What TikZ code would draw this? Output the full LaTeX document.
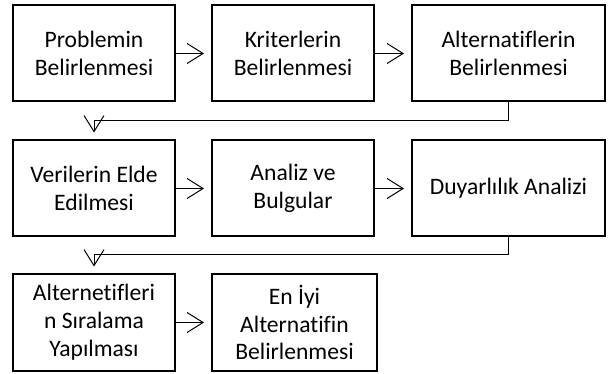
\documentclass[tikz,border=0pt]{standalone}
\usepackage{fontspec}
\setmainfont[Ligatures=NoCommon]{Carlito}
\usetikzlibrary{arrows.meta}
\tikzset{
  stepbox/.style={draw, line width=2pt, minimum height=96pt, inner sep=0pt, align=center,
    font=\fontsize{23.6}{27.8}\selectfont},
  arr/.style={line width=1pt, -{Straight Barb[length=16pt,width=20pt,line width=1pt]}, shorten >=7pt}
}
\begin{document}
\begin{tikzpicture}[x=1pt,y=-1pt]
\useasboundingbox (0,0) rectangle (611,374);
\node[stepbox, minimum width=162pt] (a1) at (94,53.5) {Problemin\\Belirlenmesi};
\node[stepbox, minimum width=162pt] (a2) at (293,53.5) {Kriterlerin\\Belirlenmesi};
\node[stepbox, minimum width=193pt] (a3) at (508.5,53.5) {Alternatiflerin\\Belirlenmesi};
\node[stepbox, minimum width=162pt] (b1) at (94,188.5) {Verilerin Elde\\Edilmesi};
\node[stepbox, minimum width=162pt] (b2) at (293,188.5) {Analiz ve\\Bulgular};
\node[stepbox, minimum width=193pt] (b3) at (508.5,188.5) {Duyarlılık Analizi};
\node[stepbox, minimum width=162pt] (c1) at (94,322.5) {Alternetifleri\\n Sıralama\\Yapılması};
\node[stepbox, minimum width=165pt] (c2) at (294.5,322.5) {En İyi\\Alternatifin\\Belirlenmesi};
\coordinate (k1) at (508.5,121);
\coordinate (k2) at (508.5,255);
\draw[arr] (a1) -- (a2);
\draw[arr] (a2) -- (a3);
\draw[arr] (a3.south) -- (k1) -| (b1.north);
\draw[arr] (b1) -- (b2);
\draw[arr] (b2) -- (b3);
\draw[arr] (b3.south) -- (k2) -| (c1.north);
\draw[arr] (c1) -- (c2);
\end{tikzpicture}
\end{document}
